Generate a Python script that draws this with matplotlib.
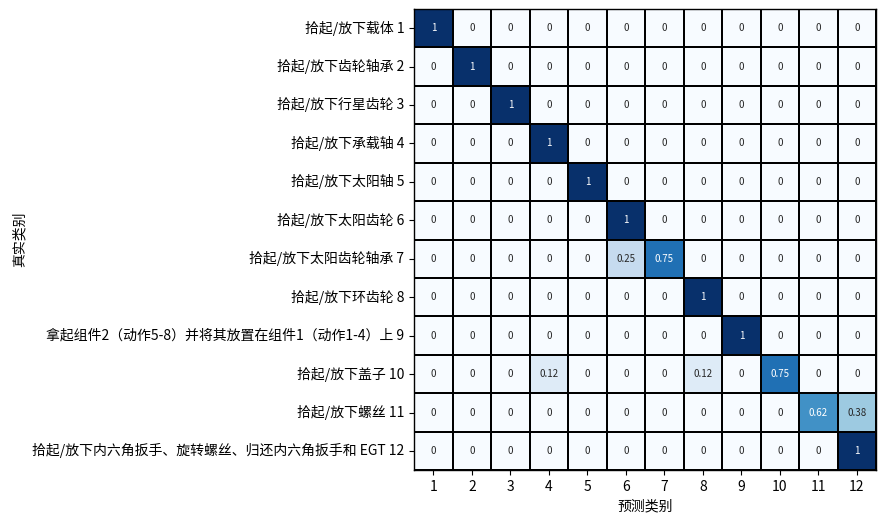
import numpy as np
import matplotlib
matplotlib.use("Agg")
import matplotlib.pyplot as plt
import seaborn as sns

plt.rcParams['font.family'] = ['Noto Sans CJK SC', 'DejaVu Sans']
plt.rcParams['axes.unicode_minus'] = False

row_names = [
    "拾起/放下载体",
    "拾起/放下齿轮轴承",
    "拾起/放下行星齿轮",
    "拾起/放下承载轴",
    "拾起/放下太阳轴",
    "拾起/放下太阳齿轮",
    "拾起/放下太阳齿轮轴承",
    "拾起/放下环齿轮",
    "拿起组件2（动作5-8）并将其放置在组件1（动作1-4）上",
    "拾起/放下盖子",
    "拾起/放下螺丝",
    "拾起/放下内六角扳手、旋转螺丝、归还内六角扳手和 EGT",
]
col_labels = [str(i) for i in range(1, 13)]
row_labels = ["%s %d" % (n, i + 1) for i, n in enumerate(row_names)]

# off-diagonal entries (row, col, value), 1-based
off_diag = [
    (7, 6, 0.25), (7, 7, 0.75),
    (10, 4, 0.125), (10, 8, 0.125), (10, 10, 0.75),
    (11, 11, 0.625), (11, 12, 0.375),
]

cm = np.eye(12)
for r, c, v in off_diag:
    cm[r - 1, r - 1] = 0
for r, c, v in off_diag:
    cm[r - 1, c - 1] = v

fig = plt.figure(figsize=(8.85, 5.23), dpi=100)
ax = fig.add_axes([0.468, 0.101, 0.522, 0.882])
sns.heatmap(cm, annot=True, fmt='.2g', cmap='Blues', cbar=False,
            linewidths=1.2, linecolor='black', ax=ax,
            annot_kws={'fontsize': 7},
            xticklabels=col_labels, yticklabels=row_labels)
for s in ax.spines.values():
    s.set_visible(True)
    s.set_color('black')
    s.set_linewidth(1.0)
ax.set_yticklabels(row_labels, rotation=0, fontsize=10)
ax.set_xticklabels(col_labels, rotation=0, fontsize=10)
ax.set_xlabel("预测类别", fontsize=10)
ax.set_ylabel("真实类别", fontsize=10)

fig.savefig("out.png", dpi=100)
